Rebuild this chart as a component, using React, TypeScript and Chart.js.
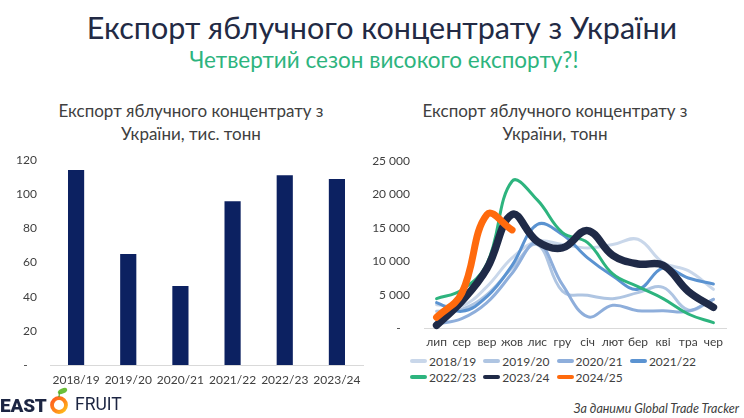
import React, { useEffect, useRef } from 'react';
import { Chart, registerables } from 'chart.js';

Chart.register(...registerables);

// ---- Left chart data (thousand tonnes) ----
const seasons = ['2018/19', '2019/20', '2020/21', '2021/22', '2022/23', '2023/24'];
const annualExport = [114.2, 65, 46.3, 96, 111.2, 109];
const annualTicks = [0, 20, 40, 60, 80, 100, 120];

// ---- Right chart data (tonnes per month) ----
const months = ['лип', 'сер', 'вер', 'жов', 'лис', 'гру', 'січ', 'лют', 'бер', 'кві', 'тра', 'чер'];
const s2018_19 = [3500, 3300, 6200, 10500, 13000, 12500, 12000, 12500, 13300, 9800, 8600, 5800];
const s2019_20 = [2500, 2800, 5000, 9000, 12500, 5500, 4900, 4400, 5300, 6100, 2700, 4300];
const s2020_21 = [600, 1400, 3800, 8200, 12800, 6500, 1700, 3400, 2600, 2600, 2500, 4300];
const s2021_22 = [3800, 2500, 4700, 9400, 15500, 14000, 10500, 7800, 5800, 9000, 7500, 6600];
const s2022_23 = [4400, 5700, 9600, 22000, 19200, 14300, 12800, 8100, 6200, 4400, 2100, 800];
const s2023_24 = [400, 4000, 8900, 17000, 13000, 12000, 14600, 10900, 9600, 9400, 5500, 3100];
const s2024_25 = [1600, 5200, 17000, 14700];
const monthlyTicks = [0, 5000, 10000, 15000, 20000, 25000];
const lineSeasons = ['2018/19', '2019/20', '2020/21', '2021/22', '2022/23', '2023/24', '2024/25'];
const lineSeries = [s2018_19, s2019_20, s2020_21, s2021_22, s2022_23, s2023_24, s2024_25];

// ---- Styles ----
const lineColors = ['#c9d7ea', '#afc5e2', '#8eaedb', '#5b93d1', '#2db47e', '#1f2a47', '#ff6a0d'];
const lineWidths = [3, 3, 3, 3, 3, 7.5, 7];
const FONT = 'Lato';
const TICK_COLOR = '#404040';

const fmtThousands = (v: number) =>
  v === 0 ? '-   ' : String(v).replace(/\B(?=(\d{3})+(?!\d))/g, ' ');

function BarChart() {
  const ref = useRef<HTMLCanvasElement>(null);
  useEffect(() => {
    const chart = new Chart(ref.current as HTMLCanvasElement, {
      type: 'bar',
      data: {
        labels: seasons,
        datasets: [
          {
            data: annualExport,
            backgroundColor: '#0c2161',
            barPercentage: 0.31,
            categoryPercentage: 1,
          },
        ],
      },
      options: {
        responsive: false,
        animation: false,
        devicePixelRatio: 1,
        layout: { padding: { top: 16, right: 7, left: 0, bottom: 0 } },
        plugins: { legend: { display: false }, tooltip: { enabled: false } },
        scales: {
          x: {
            grid: { display: false, drawTicks: false },
            border: { display: true, color: '#d9d9d9', width: 1 },
            ticks: {
              padding: 8,
              color: TICK_COLOR,
              font: { family: FONT, size: 12 },
              maxRotation: 0,
              autoSkip: false,
            },
            afterFit: (s: any) => {
              s.height = 35;
            },
          },
          y: {
            min: 0,
            max: 120,
            grid: { display: false, drawTicks: false },
            border: { display: false },
            afterBuildTicks: (s: any) => {
              s.ticks = annualTicks.map((v) => ({ value: v }));
            },
            ticks: {
              padding: 13,
              color: TICK_COLOR,
              font: { family: FONT, size: 12 },
              callback: (v: any) => (Number(v) === 0 ? '-   ' : String(v)),
            },
            afterFit: (s: any) => {
              s.width = 50;
            },
          },
        },
      },
    });
    return () => chart.destroy();
  }, []);
  return (
    <canvas
      ref={ref}
      width={370}
      height={260}
      style={{ position: 'absolute', left: 0, top: 140, width: 370, height: 260 }}
    />
  );
}

function LineChart() {
  const ref = useRef<HTMLCanvasElement>(null);
  useEffect(() => {
    const chart = new Chart(ref.current as HTMLCanvasElement, {
      type: 'line',
      data: {
        labels: months,
        datasets: lineSeries.map((d, i) => ({
          label: lineSeasons[i],
          data: d,
          borderColor: lineColors[i],
          backgroundColor: lineColors[i],
          borderWidth: lineWidths[i],
          pointRadius: 0,
          tension: 0.4,
          borderCapStyle: 'round' as const,
          borderJoinStyle: 'round' as const,
          fill: false,
          clip: false as any,
          order: lineSeries.length - i,
        })),
      },
      options: {
        responsive: false,
        animation: false,
        devicePixelRatio: 1,
        layout: { padding: { top: 16, right: 18, left: 0, bottom: 0 } },
        plugins: { legend: { display: false }, tooltip: { enabled: false } },
        scales: {
          x: {
            offset: true,
            grid: { display: false, drawTicks: false },
            border: { display: true, color: '#d9d9d9', width: 1 },
            ticks: {
              padding: 7,
              color: TICK_COLOR,
              font: { family: FONT, size: 12 },
              maxRotation: 0,
              autoSkip: false,
            },
            afterFit: (s: any) => {
              s.height = 22;
            },
          },
          y: {
            min: 0,
            max: 25000,
            grid: { display: false, drawTicks: false },
            border: { display: false },
            afterBuildTicks: (s: any) => {
              s.ticks = monthlyTicks.map((v) => ({ value: v }));
            },
            ticks: {
              padding: 14,
              color: TICK_COLOR,
              font: { family: FONT, size: 12 },
              callback: (v: any) => fmtThousands(Number(v)),
            },
            afterFit: (s: any) => {
              s.width = 54;
            },
          },
        },
      },
    });
    return () => chart.destroy();
  }, []);
  return (
    <canvas
      ref={ref}
      width={374}
      height={210}
      style={{ position: 'absolute', left: 370, top: 140, width: 374, height: 210 }}
    />
  );
}

function Legend() {
  return (
    <>
      {lineSeasons.map((s, i) => {
        const col = i % 4;
        const row = Math.floor(i / 4);
        return (
          <div
            key={s}
            style={{
              position: 'absolute',
              left: 410 + col * 73.3,
              top: 361 + row * 16 - 8,
              height: 16,
              display: 'flex',
              alignItems: 'center',
              whiteSpace: 'nowrap',
              fontFamily: FONT,
              fontSize: 12,
              color: '#404040',
            }}
          >
            <span
              style={{
                display: 'inline-block',
                width: 17,
                height: 4,
                borderRadius: 2,
                background: lineColors[i],
                marginRight: 2,
              }}
            />
            <span>{s}</span>
          </div>
        );
      })}
    </>
  );
}

function Logo() {
  return (
    <div style={{ position: 'absolute', left: 0, top: 386, width: 130, height: 30 }}>
      <span
        style={{
          position: 'absolute',
          left: 0,
          top: 19,
          transform: 'translateY(-50%)',
          fontFamily: 'Roboto',
          fontWeight: 900,
          fontSize: 19,
          letterSpacing: -0.2,
          color: '#1c2542',
          lineHeight: 1,
        }}
      >
        EAST
      </span>
      <svg width={24} height={30} style={{ position: 'absolute', left: 48, top: 0 }}>
        <defs>
          <linearGradient id="ring" x1="0" y1="0" x2="1" y2="1">
            <stop offset="0%" stopColor="#ff5a1f" />
            <stop offset="60%" stopColor="#ff8c1a" />
            <stop offset="100%" stopColor="#ffc21a" />
          </linearGradient>
        </defs>
        <circle cx={11} cy={19} r={7} fill="none" stroke="url(#ring)" strokeWidth={3.8} />
        <ellipse cx={14.5} cy={5} rx={5} ry={2.6} fill="#6cbf3a" transform="rotate(-25 14.5 5)" />
        <line x1={11} y1={11} x2={11.5} y2={6} stroke="#5aa32e" strokeWidth={1.2} />
      </svg>
      <span
        style={{
          position: 'absolute',
          left: 75,
          top: 19,
          transform: 'translateY(-50%)',
          fontFamily: 'Roboto',
          fontWeight: 400,
          fontSize: 17.5,
          color: '#1c2542',
          lineHeight: 1,
        }}
      >
        FRUIT
      </span>
    </div>
  );
}

const centered = (x: number, y: number, extra: React.CSSProperties): React.CSSProperties => ({
  position: 'absolute',
  left: x,
  top: y,
  transform: 'translate(-50%, -50%)',
  whiteSpace: 'nowrap',
  lineHeight: 1,
  fontFamily: FONT,
  ...extra,
});

export default function App() {
  useEffect(() => {
    document.body.style.margin = '0';
  }, []);
  return (
    <div
      style={{
        position: 'absolute',
        left: 0,
        top: 0,
        width: 744,
        height: 418,
        background: '#ffffff',
        overflow: 'hidden',
        fontFamily: FONT,
      }}
    >
      <div style={centered(382, 27, { fontSize: 30.5, color: '#222a44' })}>
        Експорт яблучного концентрату з України
      </div>
      <div style={centered(384, 60, { fontSize: 22.5, color: '#2db47e' })}>
        Четвертий сезон високого експорту?!
      </div>

      <div style={centered(191, 110, { fontSize: 17, color: '#404040' })}>
        Експорт яблучного концентрату з
      </div>
      <div style={centered(191, 133, { fontSize: 17, color: '#404040' })}>України, тис. тонн</div>

      <div style={centered(555, 110, { fontSize: 17, color: '#404040' })}>
        Експорт яблучного концентрату з
      </div>
      <div style={centered(555, 133, { fontSize: 17, color: '#404040' })}>України, тонн</div>

      <BarChart />
      <LineChart />
      <Legend />
      <Logo />

      <div
        style={{
          position: 'absolute',
          right: 5,
          top: 409,
          transform: 'translateY(-50%)',
          fontFamily: FONT,
          fontStyle: 'italic',
          fontSize: 12.5,
          color: '#404040',
          whiteSpace: 'nowrap',
          lineHeight: 1,
        }}
      >
        За даними Global Trade Tracker
      </div>
    </div>
  );
}
